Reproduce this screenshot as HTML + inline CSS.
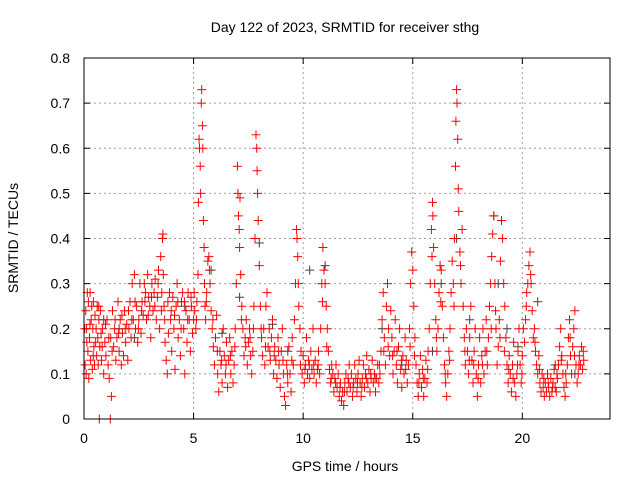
<!DOCTYPE html>
<html><head><meta charset="utf-8"><style>
html,body{margin:0;padding:0;background:#fff}
svg{display:block;font-family:"Liberation Sans",sans-serif}
</style></head><body>
<svg id="chart" width="640" height="480">
<text x="345" y="32" font-size="14" text-anchor="middle" fill="#000">Day 122 of 2023, SRMTID for receiver sthg</text>
<text x="345" y="471" font-size="14" text-anchor="middle" fill="#000">GPS time / hours</text>
<text transform="translate(18,238) rotate(-90)" font-size="14" text-anchor="middle" fill="#000">SRMTID / TECUs</text>
<g id="grid"></g><g id="ticks"></g><g id="marks"></g>
<rect x="84" y="58" width="526" height="361" fill="none" stroke="#000" stroke-width="1"/>
</svg>
<script>
const xTicks=[0,5,10,15,20];
const yTicks=[0,0.1,0.2,0.3,0.4,0.5,0.6,0.7,0.8];
const yTickLabels=["0","0.1","0.2","0.3","0.4","0.5","0.6","0.7","0.8"];
const grayPts=[[0.9,0.22],[1.6,0.2],[2.3,0.18],[4.6,0.25],[5.8,0.33],[6.3,0.19],[7.1,0.27],[8.0,0.39],[8.6,0.21],[9.3,0.15],[10.3,0.33],[11.0,0.34],[13.6,0.2],[14.5,0.12],[15.9,0.15],[16.3,0.3],[17.0,0.4],[17.6,0.22],[18.7,0.45],[18.9,0.3],[19.3,0.2],[19.8,0.16],[20.7,0.26],[21.5,0.12],[22.4,0.1]];
const redPts=[
[0.05,0.12],[0.08,0.24],[0.1,0.1],[0.12,0.2],[0.15,0.28],[0.18,0.15],[0.2,0.26],[0.22,0.09],[0.25,0.18],[0.28,0.28],[0.3,0.13],[0.33,0.22],[0.35,0.25],[0.38,0.11],[0.4,0.2],[0.43,0.26],[0.45,0.16],[0.48,0.12],[0.5,0.23],[0.55,0.2],[0.58,0.14],[0.6,0.25],[0.63,0.18],[0.65,0.12],[0.68,0.22],[0.7,0.0],[0.72,0.16],[0.75,0.24],[0.78,0.19],[0.8,0.13],[0.85,0.2],[0.9,0.1],[0.95,0.17],[1.0,0.14],[1.05,0.22],[1.1,0.12],[1.15,0.09],[1.2,0.0],[1.22,0.18],[1.25,0.05],[1.3,0.24],[1.35,0.16],[1.4,0.2],[1.45,0.13],[1.5,0.18],[1.55,0.26],[1.6,0.15],[1.65,0.22],[1.7,0.12],[1.75,0.19],[1.8,0.14],[1.85,0.24],[1.9,0.17],[1.95,0.21],[2.0,0.13],[2.05,0.2],[2.1,0.26],[2.15,0.18],[2.2,0.3],[2.25,0.22],[2.3,0.32],[2.35,0.2],[2.4,0.25],[2.45,0.17],[2.5,0.22],[2.55,0.3],[2.6,0.19],[2.65,0.26],[2.7,0.23],[2.75,0.3],[2.8,0.28],[2.85,0.22],[2.9,0.32],[2.95,0.27],[3.0,0.25],[3.05,0.18],[3.1,0.3],[3.15,0.24],[3.2,0.28],[3.25,0.31],[3.3,0.22],[3.35,0.27],[3.4,0.33],[3.45,0.2],[3.5,0.36],[3.55,0.28],[3.58,0.4],[3.6,0.41],[3.62,0.32],[3.65,0.25],[3.7,0.17],[3.75,0.13],[3.8,0.1],[3.85,0.19],[3.9,0.28],[3.95,0.22],[4.0,0.15],[4.05,0.27],[4.1,0.2],[4.15,0.11],[4.2,0.25],[4.25,0.3],[4.3,0.18],[4.35,0.22],[4.4,0.14],[4.45,0.26],[4.5,0.28],[4.55,0.2],[4.6,0.1],[4.65,0.24],[4.7,0.17],[4.75,0.28],[4.8,0.22],[4.85,0.15],[4.9,0.25],[4.95,0.19],[5.0,0.22],[5.05,0.24],[5.1,0.2],[5.15,0.26],[5.2,0.32],[5.22,0.48],[5.25,0.62],[5.27,0.6],[5.3,0.56],[5.32,0.5],[5.35,0.7],[5.37,0.73],[5.4,0.65],[5.42,0.6],[5.45,0.44],[5.48,0.38],[5.5,0.3],[5.52,0.25],[5.55,0.22],[5.6,0.28],[5.65,0.35],[5.7,0.36],[5.75,0.3],[5.8,0.24],[5.85,0.2],[5.9,0.16],[5.95,0.12],[6.0,0.18],[6.05,0.23],[6.1,0.1],[6.15,0.06],[6.2,0.15],[6.25,0.12],[6.3,0.08],[6.35,0.2],[6.4,0.14],[6.45,0.1],[6.5,0.17],[6.55,0.07],[6.6,0.13],[6.65,0.18],[6.7,0.1],[6.75,0.15],[6.8,0.08],[6.85,0.12],[6.9,0.2],[6.95,0.3],[7.0,0.56],[7.02,0.5],[7.05,0.45],[7.08,0.42],[7.1,0.38],[7.12,0.49],[7.15,0.32],[7.2,0.25],[7.25,0.2],[7.3,0.14],[7.35,0.18],[7.4,0.22],[7.45,0.12],[7.5,0.17],[7.55,0.2],[7.6,0.14],[7.65,0.1],[7.7,0.15],[7.75,0.25],[7.8,0.4],[7.85,0.63],[7.88,0.6],[7.9,0.55],[7.92,0.5],[7.95,0.44],[8.0,0.34],[8.05,0.25],[8.1,0.18],[8.15,0.14],[8.2,0.2],[8.25,0.12],[8.3,0.25],[8.35,0.28],[8.4,0.16],[8.45,0.2],[8.5,0.13],[8.55,0.18],[8.6,0.22],[8.65,0.1],[8.7,0.16],[8.75,0.13],[8.8,0.09],[8.85,0.18],[8.9,0.12],[8.95,0.07],[9.0,0.15],[9.05,0.2],[9.1,0.1],[9.15,0.05],[9.2,0.03],[9.25,0.12],[9.3,0.08],[9.35,0.16],[9.4,0.1],[9.45,0.06],[9.5,0.18],[9.55,0.12],[9.6,0.22],[9.65,0.3],[9.7,0.42],[9.72,0.4],[9.75,0.36],[9.78,0.3],[9.8,0.25],[9.85,0.2],[9.9,0.15],[9.95,0.1],[10.0,0.14],[10.05,0.08],[10.1,0.12],[10.15,0.18],[10.2,0.1],[10.25,0.13],[10.3,0.09],[10.35,0.15],[10.4,0.11],[10.45,0.2],[10.5,0.1],[10.55,0.13],[10.6,0.08],[10.65,0.11],[10.7,0.15],[10.75,0.1],[10.8,0.2],[10.85,0.3],[10.9,0.38],[10.95,0.33],[11.0,0.3],[11.05,0.25],[11.1,0.2],[11.15,0.15],[11.2,0.11],[11.25,0.08],[11.3,0.12],[11.35,0.1],[11.4,0.06],[11.45,0.09],[11.5,0.12],[11.55,0.07],[11.6,0.1],[11.65,0.05],[11.7,0.08],[11.75,0.04],[11.8,0.06],[11.85,0.03],[11.9,0.08],[11.95,0.1],[12.0,0.06],[12.05,0.09],[12.1,0.12],[12.15,0.07],[12.2,0.1],[12.25,0.05],[12.3,0.08],[12.35,0.12],[12.4,0.09],[12.45,0.06],[12.5,0.1],[12.55,0.13],[12.6,0.08],[12.65,0.05],[12.7,0.09],[12.75,0.12],[12.8,0.07],[12.85,0.1],[12.9,0.14],[12.95,0.08],[13.0,0.11],[13.05,0.06],[13.1,0.09],[13.15,0.13],[13.2,0.08],[13.25,0.1],[13.3,0.06],[13.35,0.09],[13.4,0.12],[13.45,0.08],[13.5,0.1],[13.55,0.15],[13.6,0.22],[13.65,0.28],[13.7,0.18],[13.75,0.12],[13.8,0.25],[13.85,0.3],[13.9,0.2],[13.95,0.14],[14.0,0.24],[14.05,0.18],[14.1,0.1],[14.15,0.15],[14.2,0.22],[14.25,0.12],[14.3,0.08],[14.35,0.16],[14.4,0.2],[14.45,0.11],[14.5,0.07],[14.55,0.14],[14.6,0.1],[14.65,0.18],[14.7,0.13],[14.75,0.08],[14.8,0.12],[14.85,0.2],[14.9,0.3],[14.95,0.37],[15.0,0.33],[15.05,0.25],[15.1,0.18],[15.15,0.12],[15.2,0.08],[15.25,0.05],[15.3,0.1],[15.35,0.14],[15.4,0.07],[15.45,0.11],[15.5,0.05],[15.55,0.09],[15.6,0.13],[15.65,0.08],[15.7,0.15],[15.75,0.2],[15.8,0.3],[15.85,0.42],[15.9,0.48],[15.92,0.45],[15.95,0.38],[16.0,0.3],[16.05,0.22],[16.1,0.15],[16.15,0.2],[16.2,0.28],[16.25,0.34],[16.3,0.33],[16.35,0.25],[16.4,0.18],[16.45,0.12],[16.5,0.08],[16.55,0.05],[16.6,0.1],[16.65,0.15],[16.7,0.2],[16.75,0.28],[16.8,0.35],[16.85,0.3],[16.9,0.4],[16.95,0.56],[16.97,0.66],[17.0,0.73],[17.02,0.7],[17.05,0.62],[17.08,0.51],[17.1,0.46],[17.15,0.37],[17.2,0.3],[17.25,0.42],[17.3,0.25],[17.35,0.18],[17.4,0.12],[17.45,0.2],[17.5,0.15],[17.55,0.1],[17.6,0.18],[17.65,0.25],[17.7,0.13],[17.75,0.08],[17.8,0.15],[17.85,0.2],[17.9,0.1],[17.95,0.05],[18.0,0.12],[18.05,0.18],[18.1,0.08],[18.15,0.14],[18.2,0.2],[18.25,0.1],[18.3,0.15],[18.35,0.22],[18.4,0.12],[18.45,0.18],[18.5,0.25],[18.55,0.3],[18.6,0.36],[18.65,0.41],[18.7,0.45],[18.75,0.3],[18.8,0.2],[18.85,0.12],[18.9,0.16],[18.95,0.22],[19.0,0.35],[19.05,0.44],[19.1,0.4],[19.15,0.3],[19.2,0.25],[19.25,0.18],[19.3,0.12],[19.35,0.08],[19.4,0.14],[19.45,0.1],[19.5,0.06],[19.55,0.12],[19.6,0.17],[19.65,0.08],[19.7,0.05],[19.75,0.1],[19.8,0.15],[19.85,0.2],[19.9,0.12],[19.95,0.08],[20.0,0.14],[20.05,0.2],[20.1,0.17],[20.15,0.22],[20.2,0.28],[20.25,0.3],[20.3,0.34],[20.35,0.37],[20.4,0.3],[20.45,0.24],[20.5,0.18],[20.55,0.2],[20.6,0.15],[20.65,0.12],[20.7,0.1],[20.75,0.14],[20.8,0.08],[20.85,0.06],[20.9,0.1],[20.95,0.07],[21.0,0.05],[21.05,0.08],[21.1,0.06],[21.15,0.1],[21.2,0.07],[21.25,0.05],[21.3,0.09],[21.35,0.06],[21.4,0.08],[21.45,0.11],[21.5,0.07],[21.55,0.06],[21.6,0.09],[21.65,0.12],[21.7,0.16],[21.75,0.2],[21.8,0.14],[21.85,0.1],[21.9,0.07],[21.95,0.05],[22.0,0.08],[22.05,0.12],[22.1,0.18],[22.15,0.22],[22.2,0.14],[22.25,0.1],[22.3,0.16],[22.35,0.2],[22.4,0.24],[22.45,0.12],[22.5,0.08],[22.55,0.1],[22.6,0.14],[22.65,0.12],[22.7,0.16],[22.75,0.11],[22.8,0.13]
];
const redPtsExtra=[
[0.03,0.2],[0.13,0.17],[0.27,0.21],[0.42,0.14],[0.53,0.17],[0.67,0.25],[0.83,0.16],[0.98,0.21],[1.13,0.18],[1.28,0.15],[1.42,0.22],[1.58,0.19],[1.73,0.23],[1.88,0.2],[2.03,0.24],[2.18,0.22],[2.33,0.26],[2.48,0.2],[2.63,0.24],[2.78,0.26],[2.93,0.23],[3.08,0.27],[3.23,0.25],[3.38,0.3],[3.53,0.24],[3.68,0.22],[3.83,0.26],[3.98,0.24],[4.13,0.23],[4.28,0.26],[4.43,0.2],[4.58,0.26],[4.73,0.22],[4.88,0.27],[5.03,0.28],[5.13,0.22],[5.58,0.26],[5.72,0.33],[5.88,0.22],[6.08,0.15],[6.28,0.13],[6.48,0.12],[6.68,0.14],[6.88,0.16],[7.18,0.22],[7.38,0.16],[7.58,0.18],[7.73,0.2],[8.08,0.2],[8.28,0.16],[8.48,0.15],[8.68,0.14],[8.88,0.15],[9.08,0.13],[9.28,0.1],[9.48,0.13],[9.88,0.12],[10.08,0.11],[10.28,0.12],[10.48,0.12],[10.68,0.12],[10.88,0.26],[11.08,0.16],[11.28,0.09],[11.48,0.08],[11.68,0.07],[11.88,0.06],[12.08,0.08],[12.28,0.07],[12.48,0.08],[12.68,0.07],[12.88,0.09],[13.08,0.1],[13.28,0.09],[13.48,0.12],[13.68,0.15],[13.88,0.16],[14.08,0.14],[14.28,0.15],[14.48,0.13],[14.68,0.11],[14.88,0.16],[15.08,0.14],[15.28,0.08],[15.48,0.09],[15.68,0.11],[15.88,0.36],[16.08,0.18],[16.28,0.26],[16.48,0.1],[16.68,0.13],[16.88,0.25],[17.18,0.34],[17.38,0.15],[17.58,0.13],[17.78,0.12],[17.98,0.09],[18.18,0.12],[18.38,0.15],[18.58,0.2],[18.78,0.24],[18.98,0.18],[19.18,0.15],[19.38,0.11],[19.58,0.09],[19.78,0.12],[19.98,0.1],[20.18,0.25],[20.38,0.32],[20.58,0.17],[20.78,0.11],[20.98,0.09],[21.18,0.08],[21.38,0.07],[21.58,0.1],[21.78,0.13],[21.98,0.1],[22.18,0.18],[22.38,0.14],[22.58,0.12],[22.78,0.15]
];
const NS="http://www.w3.org/2000/svg";
const X0=84,X1=610,Y0=419,Y1=58,XMAX=24,YMAX=0.8;
function xs(t){return X0+(X1-X0)*t/XMAX;}
function ys(v){return Y0-(Y0-Y1)*v/YMAX;}
function mk(tag,attrs,parent){const e=document.createElementNS(NS,tag);for(const k in attrs)e.setAttribute(k,attrs[k]);parent.appendChild(e);return e;}
const grid=document.getElementById('grid'),ticks=document.getElementById('ticks'),marks=document.getElementById('marks');
yTicks.forEach((v,i)=>{const y=ys(v);
 if(i>0&&i<yTicks.length-1){const g=mk('line',{x1:X0,x2:X1,y1:y,y2:y,stroke:'#a0a0a0','stroke-dasharray':'2,3'},grid);
 
 }
 mk('line',{x1:X0,x2:X0+6,y1:y,y2:y,stroke:'#000'},ticks);mk('line',{x1:X1,x2:X1-6,y1:y,y2:y,stroke:'#000'},ticks);
 const t=mk('text',{x:X0-14,y:y+5,'font-size':14,'text-anchor':'end'},ticks);t.textContent=yTickLabels[i];
 
 });
xTicks.forEach(v=>{const x=xs(v);
 if(v>0){const g=mk('line',{x1:x,x2:x,y1:Y0,y2:Y1,stroke:'#a0a0a0','stroke-dasharray':'2,3'},grid);
 
 }
 mk('line',{x1:x,x2:x,y1:Y0,y2:Y0-6,stroke:'#000'},ticks);mk('line',{x1:x,x2:x,y1:Y1,y2:Y1+6,stroke:'#000'},ticks);
 const t=mk('text',{x:x,y:443,'font-size':14,'text-anchor':'middle'},ticks);t.textContent=String(v);
 
 });
function plus(pts,color,name){let d='';pts.forEach(p=>{const x=xs(p[0]),y=ys(p[1]);d+=`M${(x-4.5).toFixed(1)} ${y.toFixed(1)}h9M${x.toFixed(1)} ${(y-4.5).toFixed(1)}v9`;});
 const p=mk('path',{d:d,stroke:color,'stroke-width':1,fill:'none'},marks);
 
 }
plus(grayPts,'#404040','gray-series-points');
plus(redPts,'#ff0000','srmtid-points');
plus(redPtsExtra,'#ff0000','srmtid-points-extra');
</script>
</body></html>
